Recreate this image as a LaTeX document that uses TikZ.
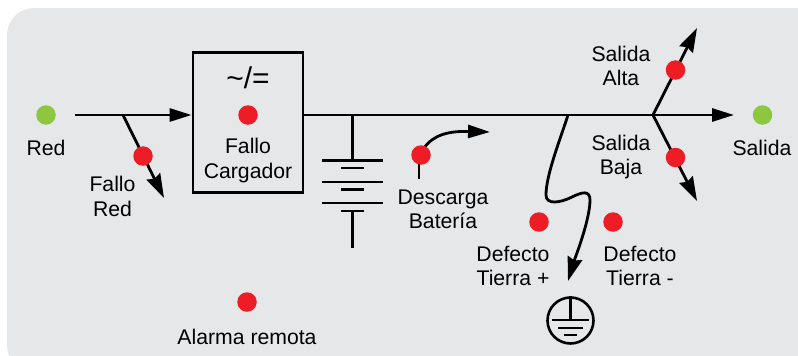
\documentclass[tikz,border=0pt]{standalone}
\usepackage{fontspec}
\setmainfont{Liberation Sans}
\usetikzlibrary{arrows.meta}
\definecolor{panelgray}{HTML}{E6E7E9}
\definecolor{ledred}{HTML}{EE1C25}
\definecolor{ledgreen}{HTML}{8DC63F}
\tikzset{
  wire/.style={line width=2.8pt,black},
  arrowh/.style={wire,-{Triangle[length=22pt,width=13pt]}},
  arrowd/.style={wire,-{Stealth[length=24pt,width=15pt,inset=2.5pt]}},
  plate/.style={line width=2.6pt,black},
  redled/.style={circle,fill=ledred,minimum size=19.5pt,inner sep=0pt},
  greenled/.style={circle,fill=ledgreen,minimum size=19.5pt,inner sep=0pt},
  lbl/.style={font=\fontsize{21.2}{24.4}\selectfont,align=center,anchor=base,inner sep=0pt,text=black},
}
\begin{document}
\begin{tikzpicture}[x=1pt,y=-1pt]
\useasboundingbox (0,0) rectangle (798,356);
\begin{scope}
\clip (0,0) rectangle (798,356);
\fill[panelgray,rounded corners=27pt] (7,8) rectangle (830,372);
\end{scope}
% junctions and free ends
\coordinate (inStart) at (75,115);
\coordinate (redBranch) at (123,115);
\coordinate (redTip) at (164,198);
\coordinate (busStart) at (303,115);
\coordinate (battTop) at (352.5,115);
\coordinate (battBottom) at (352.5,248);
\coordinate (gndBranch) at (568,115);
\coordinate (gndTip) at (568,281);
\coordinate (outBranch) at (653,115);
\coordinate (outTip) at (734,115);
\coordinate (highTip) at (697,28);
\coordinate (lowTip) at (697,201);
\coordinate (dischStem) at (419,179);
\coordinate (dischTip) at (490,132);
% charger
\node[draw=black,line width=2.8pt,minimum width=110pt,minimum height=140pt,inner sep=0pt] (charger) at (248,122.5) {};
% connectors
\draw[arrowh] (inStart) -- (charger.west |- inStart);
\draw[arrowd] (redBranch) -- (redTip);
\draw[arrowh] (charger.east |- busStart) -- (outTip);
\draw[arrowd] (outBranch) -- (highTip);
\draw[arrowd] (outBranch) -- (lowTip);
\draw[wire] (battTop) -- (352.5,160);
\draw[wire] (352.5,211) -- (battBottom);
\draw[plate] (322,160.5) -- (383,160.5);
\draw[plate] (341,168) -- (364,168);
\draw[plate] (322,182) -- (383,182);
\draw[plate] (341,189.5) -- (364,189.5);
\draw[plate] (322,203) -- (383,203);
\draw[plate] (341,211) -- (364,211);
\draw[arrowd] (gndBranch) .. controls (560,140) and (546,175) .. (546,195)
   .. controls (546,205) and (560,203) .. (572,197)
   .. controls (582,192) and (590,190) .. (590,200)
   .. controls (590,220) and (575,258) .. (gndTip);
\draw[wire] (dischStem) -- (419,160);
\draw[arrowh] (424,148) .. controls (434,134) and (450,131) .. (dischTip);
% ground symbol
\node[draw=black,circle,line width=2.6pt,minimum size=46pt,inner sep=0pt] (gnd) at (570.5,320.5) {};
\draw[plate] (gnd.north) -- (570.5,320);
\draw[plate] (552,320) -- (589,320);
\draw[plate] (558,328) -- (583,328);
\draw[plate] (564,335) -- (577,335);
% leds
\node[greenled] (ledIn) at (46,115) {};
\node[greenled] (ledOut) at (762.5,115) {};
\node[redled] (ledMains) at (143,156) {};
\node[redled] (ledCharger) at (248,115) {};
\node[redled] (ledRemote) at (247,302) {};
\node[redled] (ledBatt) at (421,155) {};
\node[redled] (ledGndPos) at (539,222) {};
\node[redled] (ledGndNeg) at (613,222) {};
\node[redled] (ledHigh) at (675.5,70) {};
\node[redled] (ledLow) at (675.5,157.5) {};
% labels
\node[lbl] (tRed) at (46,155) {Red};
\node[lbl] (tMains) at (112.5,216) {Fallo\\Red};
\node[lbl,font=\fontsize{30}{30}\selectfont] (tConv) at (248,88) {\char"007E/=};
\node[lbl] (tCharger) at (248,178) {Fallo\\Cargador};
\node[lbl] (tBatt) at (443,228.7) {Descarga\\Batería};
\node[lbl] (tGndPos) at (513,285.7) {Defecto\\Tierra +};
\node[lbl] (tGndNeg) at (640,285.7) {Defecto\\Tierra -};
\node[lbl] (tHigh) at (621,85.7) {Salida\\Alta};
\node[lbl] (tLow) at (621,174.7) {Salida\\Baja};
\node[lbl] (tOut) at (762,155) {Salida};
\node[lbl] (tRemote) at (247,344) {Alarma remota};
\end{tikzpicture}
\end{document}
